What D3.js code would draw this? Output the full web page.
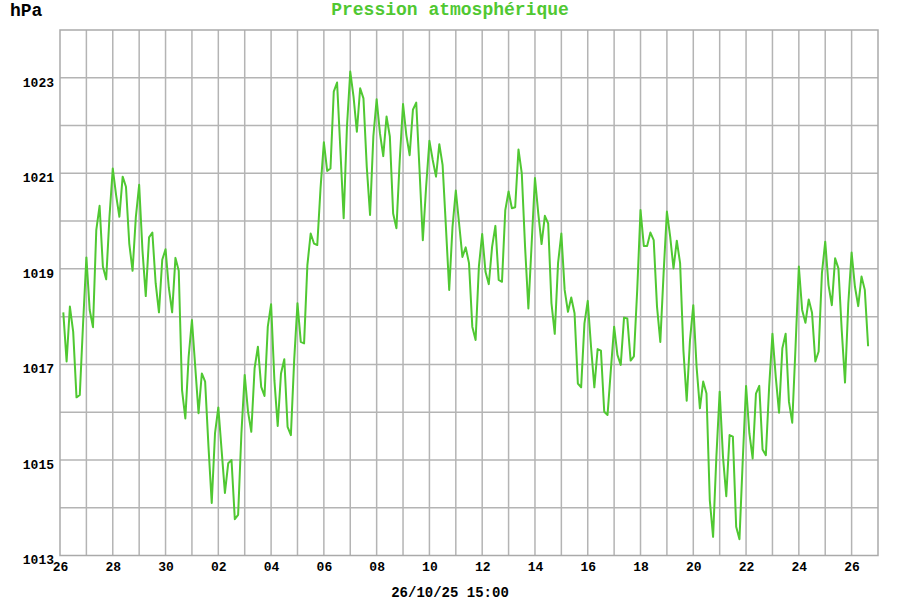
<!DOCTYPE html>
<html lang="fr">
  <head>
    <meta charset="UTF-8" />
    <title>Pression atmosphérique</title>
    <script src="https://d3js.org/d3.v7.min.js"></script>
    <style>
      body {
        margin: 0;
        background-color: #ffffff;
      }
      svg text {
        font-family: "Liberation Mono", "DejaVu Sans Mono", monospace;
        font-weight: bold;
      }
    </style>
  </head>
  <body>
    <div id="chart"></div>
    <script>
      // releves toutes les 3 heures, du 26/09 03:00 au 26/10 15:00 (hPa)
      var debut = Date.UTC(2025, 8, 26, 3);
      var fin = Date.UTC(2025, 9, 26, 15);
      var pasHeures = 3;
      var pression = [
        1018.09, 1017.06, 1018.21, 1017.68, 1016.31, 1016.36, 1017.86, 1019.24,
        1018.14, 1017.78, 1019.81, 1020.32, 1019.05, 1018.78, 1020.09, 1021.10,
        1020.55, 1020.09, 1020.93, 1020.72, 1019.53, 1018.96, 1020.09, 1020.76,
        1019.39, 1018.43, 1019.66, 1019.76, 1018.70, 1018.09, 1019.19, 1019.41,
        1018.60, 1018.09, 1019.23, 1018.96, 1016.46, 1015.87, 1017.16, 1017.93,
        1016.95, 1015.98, 1016.81, 1016.64, 1015.30, 1014.10, 1015.56, 1016.10,
        1015.20, 1014.31, 1014.93, 1015.00, 1013.76, 1013.85, 1015.56, 1016.78,
        1016.01, 1015.59, 1016.92, 1017.37, 1016.53, 1016.34, 1017.79, 1018.26,
        1016.67, 1015.71, 1016.81, 1017.11, 1015.69, 1015.52, 1017.09, 1018.28,
        1017.47, 1017.44, 1019.08, 1019.74, 1019.53, 1019.50, 1020.70, 1021.65,
        1021.05, 1021.10, 1022.71, 1022.90, 1021.50, 1020.06, 1021.98, 1023.13,
        1022.60, 1021.87, 1022.78, 1022.57, 1021.14, 1020.13, 1021.77, 1022.55,
        1021.84, 1021.36, 1022.19, 1021.77, 1020.16, 1019.85, 1021.28, 1022.45,
        1021.80, 1021.38, 1022.33, 1022.48, 1021.07, 1019.60, 1020.72, 1021.68,
        1021.28, 1020.93, 1021.61, 1021.17, 1019.88, 1018.56, 1019.88, 1020.64,
        1019.95, 1019.25, 1019.45, 1019.12, 1017.79, 1017.51, 1019.05, 1019.73,
        1018.94, 1018.68, 1019.46, 1019.90, 1018.77, 1018.73, 1020.23, 1020.62,
        1020.27, 1020.29, 1021.50, 1021.00, 1019.46, 1018.17, 1019.53, 1020.90,
        1020.16, 1019.52, 1020.11, 1019.95, 1018.28, 1017.64, 1019.12, 1019.74,
        1018.56, 1018.10, 1018.40, 1018.07, 1016.60, 1016.52, 1017.86, 1018.33,
        1017.37, 1016.52, 1017.32, 1017.29, 1016.01, 1015.94, 1016.88, 1017.79,
        1017.20, 1016.99, 1017.98, 1017.96, 1017.08, 1017.17, 1018.56, 1020.23,
        1019.48, 1019.48, 1019.76, 1019.60, 1018.21, 1017.47, 1018.91, 1020.20,
        1019.67, 1019.01, 1019.59, 1019.12, 1017.30, 1016.24, 1017.51, 1018.24,
        1016.95, 1016.08, 1016.64, 1016.39, 1014.16, 1013.39, 1015.07, 1016.43,
        1015.07, 1014.24, 1015.52, 1015.49, 1013.60, 1013.34, 1015.00, 1016.55,
        1015.56, 1015.03, 1016.39, 1016.55, 1015.22, 1015.10, 1016.53, 1017.64,
        1016.74, 1015.99, 1017.34, 1017.64, 1016.22, 1015.78, 1017.37, 1019.05,
        1018.14, 1017.87, 1018.36, 1018.08, 1017.06, 1017.27, 1018.91, 1019.57,
        1018.66, 1018.24, 1019.22, 1019.01, 1017.72, 1016.62, 1018.28, 1019.34,
        1018.63, 1018.22, 1018.84, 1018.56, 1017.38
      ];
      var yTicks = [1013, 1015, 1017, 1019, 1021, 1023];
      var yDomaine = [1013, 1024];
      var xDomaine = [Date.UTC(2025, 8, 26), Date.UTC(2025, 9, 27)];

      var data = pression.map(function (v, i) {
        return { t: new Date(debut + i * pasHeures * 3600 * 1000), v: v };
      });

      var margin = { top: 30, right: 22, bottom: 44.5, left: 60 },
        width = 900 - margin.left - margin.right,
        height = 600 - margin.top - margin.bottom;

      var svg = d3
        .select("#chart")
        .append("svg")
        .attr("width", 900)
        .attr("height", 600);

      var g = svg
        .append("g")
        .attr("transform", "translate(" + margin.left + "," + margin.top + ")");

      var x = d3
        .scaleUtc()
        .domain(xDomaine.map(function (d) { return new Date(d); }))
        .range([0, width]);
      var y = d3.scaleLinear().domain(yDomaine).range([height, 0]);

      var grille = "#b4b4b4";

      // grille verticale (chaque jour)
      g.append("g")
        .selectAll("line")
        .data(d3.utcDay.range(x.domain()[0], x.domain()[1]).slice(1))
        .enter()
        .append("line")
        .attr("x1", function (d) { return x(d); })
        .attr("x2", function (d) { return x(d); })
        .attr("y1", 0)
        .attr("y2", height)
        .attr("stroke", grille)
        .attr("stroke-width", 1.5);

      // grille horizontale (chaque hPa)
      g.append("g")
        .selectAll("line")
        .data(d3.range(yDomaine[0] + 1, yDomaine[1]))
        .enter()
        .append("line")
        .attr("x1", 0)
        .attr("x2", width)
        .attr("y1", function (d) { return y(d); })
        .attr("y2", function (d) { return y(d); })
        .attr("stroke", grille)
        .attr("stroke-width", 1.5);

      g.append("rect")
        .attr("width", width)
        .attr("height", height)
        .attr("fill", "none")
        .attr("stroke", "#aaaaaa")
        .attr("stroke-width", 1.5);

      // axes
      var xAxis = d3
        .axisBottom(x)
        .tickValues(d3.utcDay.range(x.domain()[0], x.domain()[1], 2))
        .tickFormat(d3.utcFormat("%d"))
        .tickSize(0)
        .tickPadding(6);
      g.append("g")
        .attr("transform", "translate(0," + height + ")")
        .call(xAxis)
        .call(function (s) { s.select(".domain").remove(); })
        .selectAll("text")
        .attr("fill", "#000")
        .style("font-size", "13px");

      var yAxis = d3
        .axisLeft(y)
        .tickValues(yTicks)
        .tickFormat(d3.format("d"))
        .tickSize(0)
        .tickPadding(6);
      g.append("g")
        .call(yAxis)
        .call(function (s) { s.select(".domain").remove(); })
        .selectAll("text")
        .attr("fill", "#000")
        .attr("dy", "0.65em")
        .style("font-size", "13px");

      // courbe
      var ligne = d3
        .line()
        .x(function (d) { return x(d.t); })
        .y(function (d) { return y(d.v); });

      g.append("path")
        .datum(data)
        .attr("fill", "none")
        .attr("stroke", "#50c832")
        .attr("stroke-width", 2)
        .attr("stroke-linejoin", "round")
        .attr("d", ligne);

      // textes
      svg.append("text")
        .attr("x", 10)
        .attr("y", 16)
        .style("font-size", "18px")
        .attr("fill", "#000")
        .text("hPa");

      svg.append("text")
        .attr("x", 450)
        .attr("y", 15)
        .attr("text-anchor", "middle")
        .style("font-size", "18px")
        .attr("fill", "#50c832")
        .text("Pression atmosphérique");

      svg.append("text")
        .attr("x", 450)
        .attr("y", 597)
        .attr("text-anchor", "middle")
        .style("font-size", "14px")
        .attr("fill", "#000")
        .text(d3.utcFormat("%d/%m/%y %H:%M")(new Date(fin)));
    </script>
  </body>
</html>
